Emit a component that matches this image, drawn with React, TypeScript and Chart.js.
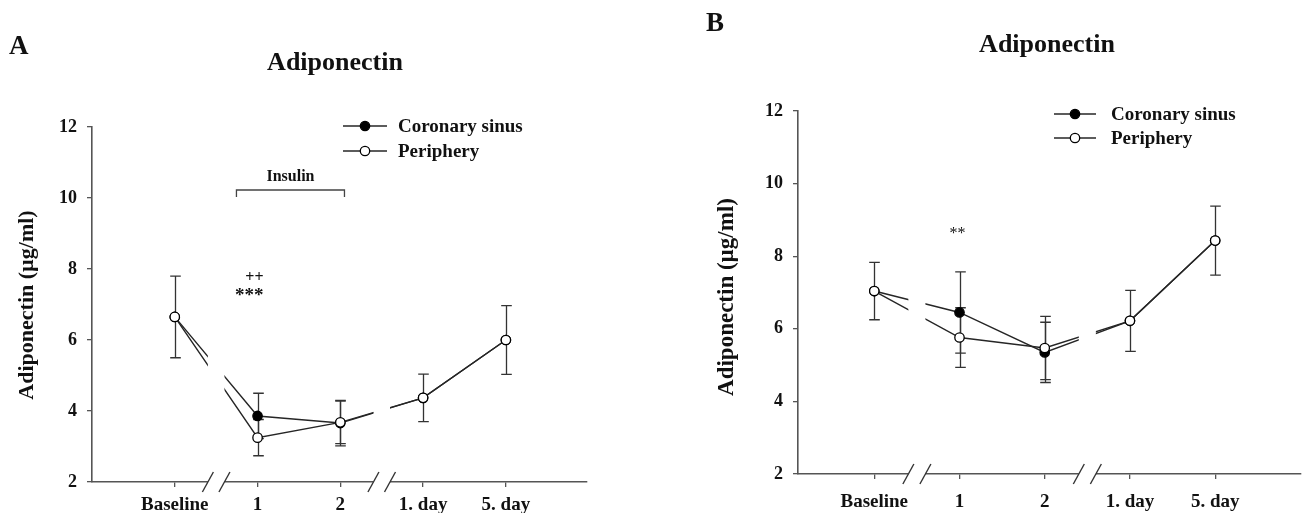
import React, { useEffect, useRef } from "react";
import { Chart, registerables } from "chart.js";

Chart.register(...registerables);

// ---- data ----
const timepoints = ["Baseline", "1", "2", "1. day", "5. day"];
const yTickValues = [2, 4, 6, 8, 10, 12];
const seriesNames = ["Coronary sinus", "Periphery"];
const chartTitle = "Adiponectin";
const yAxisTitle = "Adiponectin (µg/ml)";

// Panel A (mean ± SD)
const aCoronaryMean = [6.65, 3.86, 3.66, 4.37, 6.0];
const aCoronarySd = [1.15, 0.64, 0.64, 0.67, 0.97];
const aPeripheryMean = [6.65, 3.25, 3.68, 4.37, 6.0];
const aPeripherySd = [1.15, 0.51, 0.6, 0.67, 0.97];

// Panel B (mean ± SD)
const bCoronaryMean = [7.04, 6.45, 5.35, 6.22, 8.43];
const bCoronarySd = [0.79, 1.12, 0.83, 0.84, 0.95];
const bPeripheryMean = [7.04, 5.76, 5.47, 6.22, 8.43];
const bPeripherySd = [0.79, 0.82, 0.87, 0.84, 0.95];

// axis breaks sit midway between these time points
const axisBreaks = [0.5, 2.5];

const FONT = "'Liberation Serif', 'Times New Roman', serif";
const INK = "#111";
const AXIS = "#555";
const LINE = "#262626";

type Series = { name: string; mean: number[]; sd: number[]; filled: boolean };
type Note = { text: string; x: number; y: number; size: number; bold: boolean; align: CanvasTextAlign };
type PanelDecor = {
  letter: string;
  letterX: number;
  letterY: number;
  titleX: number;
  titleY: number;
  yTitleX: number;
  yTitleY: number;
  yTitleSize: number;
  legendX: number;
  legendLineW: number;
  legendTextX: number;
  legendRows: number[];
  series: Series[];
  notes: Note[];
  bracket?: { from: number; to: number; y: number; drop: number; label: string; labelY: number };
};
type PanelCfg = {
  width: number;
  xMin: number;
  xMax: number;
  padding: { left: number; right: number; top: number; bottom: number };
  yAxisWidth: number;
  xAxisHeight: number;
  xTickPadding: number;
  decor: PanelDecor;
};

const panelA: PanelCfg = {
  width: 650,
  xMin: -1.0,
  xMax: 4.98,
  padding: { left: 40, right: 63, top: 127, bottom: 0 },
  yAxisWidth: 52,
  xAxisHeight: 31,
  xTickPadding: 7,
  decor: {
    letter: "A",
    letterX: 9,
    letterY: 47,
    titleX: 335,
    titleY: 63,
    yTitleX: 27,
    yTitleY: 305,
    yTitleSize: 22,
    legendX: 343,
    legendLineW: 44,
    legendTextX: 398,
    legendRows: [126, 151],
    series: [
      { name: seriesNames[0], mean: aCoronaryMean, sd: aCoronarySd, filled: true },
      { name: seriesNames[1], mean: aPeripheryMean, sd: aPeripherySd, filled: false },
    ],
    notes: [
      { text: "++", x: 263.5, y: 282, size: 16, bold: true, align: "right" },
      { text: "***", x: 263.5, y: 301, size: 19, bold: true, align: "right" },
    ],
    bracket: { from: 0.745, to: 2.05, y: 190, drop: 7, label: "Insulin", labelY: 177 },
  },
};

const panelB: PanelCfg = {
  width: 657,
  xMin: -0.895,
  xMax: 5.007,
  padding: { left: 96, right: 1, top: 111, bottom: 0 },
  yAxisWidth: 52,
  xAxisHeight: 39,
  xTickPadding: 12,
  decor: {
    letter: "B",
    letterX: 56,
    letterY: 24,
    titleX: 397,
    titleY: 45,
    yTitleX: 77,
    yTitleY: 297,
    yTitleSize: 23,
    legendX: 404,
    legendLineW: 42,
    legendTextX: 461,
    legendRows: [114, 138],
    series: [
      { name: seriesNames[0], mean: bCoronaryMean, sd: bCoronarySd, filled: true },
      { name: seriesNames[1], mean: bPeripheryMean, sd: bPeripherySd, filled: false },
    ],
    notes: [{ text: "**", x: 307.5, y: 238, size: 16, bold: false, align: "center" }],
  },
};

const BREAK_HALF = 0.1; // half width of a break, in x units
const CAP = 5.3;

function drawMarker(ctx: CanvasRenderingContext2D, x: number, y: number, filled: boolean) {
  ctx.beginPath();
  ctx.arc(x, y, 4.7, 0, Math.PI * 2);
  ctx.fillStyle = filled ? "#000" : "#fff";
  ctx.fill();
  ctx.lineWidth = 1.3;
  ctx.strokeStyle = "#000";
  ctx.stroke();
}

const decorPlugin = {
  id: "panelDecor",
  beforeDatasetsDraw(chart: any) {
    const p: PanelDecor = chart.options.plugins.panelDecor;
    const { ctx, chartArea } = chart;
    const xs = chart.scales.x;
    const ys = chart.scales.y;

    // error bars (mean ± SD), drawn beneath the markers
    ctx.save();
    ctx.strokeStyle = "#333";
    ctx.lineWidth = 1.3;
    const seen = new Set<string>();
    p.series.forEach((s) =>
      s.mean.forEach((m, i) => {
        const sd = s.sd[i];
        const key = `${i}|${m}|${sd}`;
        if (seen.has(key)) return;
        seen.add(key);
        const px = Math.round(xs.getPixelForValue(i)) + 0.5;
        const top = ys.getPixelForValue(m + sd);
        const bot = ys.getPixelForValue(m - sd);
        ctx.beginPath();
        ctx.moveTo(px, top);
        ctx.lineTo(px, bot);
        ctx.moveTo(px - CAP, top);
        ctx.lineTo(px + CAP, top);
        ctx.moveTo(px - CAP, bot);
        ctx.lineTo(px + CAP, bot);
        ctx.stroke();
      })
    );
    ctx.restore();

    // cut the connecting lines where the time axis is broken
    ctx.save();
    ctx.beginPath();
    ctx.rect(0, 0, chart.width, chart.height);
    axisBreaks.forEach((b) => {
      const x1 = xs.getPixelForValue(b - BREAK_HALF);
      const x2 = xs.getPixelForValue(b + BREAK_HALF);
      ctx.rect(x1, 0, x2 - x1, chartArea.bottom - 2);
    });
    ctx.clip("evenodd");
  },
  afterDatasetsDraw(chart: any) {
    chart.ctx.restore();
  },
  afterDraw(chart: any) {
    const p: PanelDecor = chart.options.plugins.panelDecor;
    const { ctx, chartArea } = chart;
    const xs = chart.scales.x;
    const bottom = chartArea.bottom;

    ctx.save();
    // axis break marks
    axisBreaks.forEach((b) => {
      const x1 = xs.getPixelForValue(b - BREAK_HALF);
      const x2 = xs.getPixelForValue(b + BREAK_HALF);
      ctx.fillStyle = "#fff";
      ctx.fillRect(x1, bottom - 3, x2 - x1, 6);
      ctx.strokeStyle = "#333";
      ctx.lineWidth = 1.4;
      [x1, x2].forEach((cx) => {
        ctx.beginPath();
        ctx.moveTo(cx - 5.5, bottom + 10);
        ctx.lineTo(cx + 5.5, bottom - 10);
        ctx.stroke();
      });
    });

    ctx.fillStyle = INK;
    // panel letter
    ctx.font = `bold 27px ${FONT}`;
    ctx.textAlign = "left";
    ctx.textBaseline = "middle";
    ctx.fillText(p.letter, p.letterX, p.letterY);

    // title
    ctx.font = `bold 26px ${FONT}`;
    ctx.textAlign = "center";
    ctx.fillText(chartTitle, p.titleX, p.titleY);

    // y axis title
    ctx.save();
    ctx.translate(p.yTitleX, p.yTitleY);
    ctx.rotate(-Math.PI / 2);
    ctx.font = `bold ${p.yTitleSize}px ${FONT}`;
    ctx.textAlign = "center";
    ctx.textBaseline = "middle";
    ctx.fillText(yAxisTitle, 0, 0);
    ctx.restore();

    // legend
    p.series.forEach((s, k) => {
      const y = p.legendRows[k];
      ctx.strokeStyle = LINE;
      ctx.lineWidth = 1.4;
      ctx.beginPath();
      ctx.moveTo(p.legendX, y);
      ctx.lineTo(p.legendX + p.legendLineW, y);
      ctx.stroke();
      drawMarker(ctx, p.legendX + p.legendLineW / 2, y, s.filled);
      ctx.fillStyle = INK;
      ctx.font = `bold 19px ${FONT}`;
      ctx.textAlign = "left";
      ctx.textBaseline = "middle";
      ctx.fillText(s.name, p.legendTextX, y + 1);
    });

    // insulin period bracket
    if (p.bracket) {
      const br = p.bracket;
      const bx1 = xs.getPixelForValue(br.from);
      const bx2 = xs.getPixelForValue(br.to);
      ctx.strokeStyle = "#444";
      ctx.lineWidth = 1.3;
      ctx.beginPath();
      ctx.moveTo(bx1, br.y + br.drop);
      ctx.lineTo(bx1, br.y);
      ctx.lineTo(bx2, br.y);
      ctx.lineTo(bx2, br.y + br.drop);
      ctx.stroke();
      ctx.fillStyle = INK;
      ctx.font = `bold 16px ${FONT}`;
      ctx.textAlign = "center";
      ctx.textBaseline = "middle";
      ctx.fillText(br.label, (bx1 + bx2) / 2, br.labelY);
    }

    // significance marks
    p.notes.forEach((n) => {
      ctx.fillStyle = INK;
      ctx.font = `${n.bold ? "bold " : ""}${n.size}px ${FONT}`;
      ctx.textAlign = n.align;
      ctx.textBaseline = "alphabetic";
      ctx.fillText(n.text, n.x, n.y);
    });
    ctx.restore();
  },
};

function buildChart(canvas: HTMLCanvasElement, cfg: PanelCfg) {
  const d = cfg.decor;
  const datasets = d.series.map((s) => ({
    label: s.name,
    data: s.mean.map((v, i) => ({ x: i, y: v })),
    borderColor: LINE,
    borderWidth: 1.4,
    pointRadius: 4.7,
    pointHoverRadius: 4.7,
    pointBackgroundColor: s.filled ? "#000" : "#fff",
    pointBorderColor: "#000",
    pointBorderWidth: 1.3,
    tension: 0,
    fill: false,
    order: s.filled ? 2 : 1,
  }));

  return new Chart(canvas, {
    type: "line",
    data: { datasets },
    plugins: [decorPlugin],
    options: {
      responsive: false,
      animation: false,
      devicePixelRatio: 1,
      layout: { padding: cfg.padding },
      plugins: {
        legend: { display: false },
        title: { display: false },
        tooltip: { enabled: false },
        panelDecor: d,
      } as any,
      scales: {
        x: {
          type: "linear",
          min: cfg.xMin,
          max: cfg.xMax,
          afterBuildTicks: (axis: any) => {
            axis.ticks = timepoints.map((_, i) => ({ value: i }));
          },
          afterFit: (axis: any) => {
            axis.height = cfg.xAxisHeight;
          },
          ticks: {
            autoSkip: false,
            maxRotation: 0,
            padding: cfg.xTickPadding,
            color: INK,
            font: { family: FONT, size: 19, weight: "bold" },
            callback: (v: any) => timepoints[v] ?? "",
          },
          grid: { drawOnChartArea: false, drawTicks: true, tickLength: 5, color: AXIS, lineWidth: 1.3 },
          border: { display: true, color: AXIS, width: 1.6 },
        },
        y: {
          type: "linear",
          min: 2,
          max: 12,
          afterBuildTicks: (axis: any) => {
            axis.ticks = yTickValues.map((v) => ({ value: v }));
          },
          afterFit: (axis: any) => {
            axis.width = cfg.yAxisWidth;
          },
          ticks: {
            padding: 10,
            color: INK,
            font: { family: FONT, size: 18, weight: "bold" },
          },
          grid: { drawOnChartArea: false, drawTicks: true, tickLength: 5, color: AXIS, lineWidth: 1.3 },
          border: { display: true, color: AXIS, width: 1.6 },
        },
      },
    } as any,
  });
}

export default function App() {
  const aRef = useRef<HTMLCanvasElement>(null);
  const bRef = useRef<HTMLCanvasElement>(null);

  useEffect(() => {
    const charts = [buildChart(aRef.current!, panelA), buildChart(bRef.current!, panelB)];
    return () => charts.forEach((c) => c.destroy());
  }, []);

  return (
    <div style={{ position: "absolute", left: 0, top: 0, width: 1307, height: 513, background: "#fff" }}>
      <canvas
        ref={aRef}
        width={panelA.width}
        height={513}
        style={{ position: "absolute", left: 0, top: 0, width: panelA.width, height: 513 }}
      />
      <canvas
        ref={bRef}
        width={panelB.width}
        height={513}
        style={{ position: "absolute", left: 650, top: 0, width: panelB.width, height: 513 }}
      />
    </div>
  );
}
